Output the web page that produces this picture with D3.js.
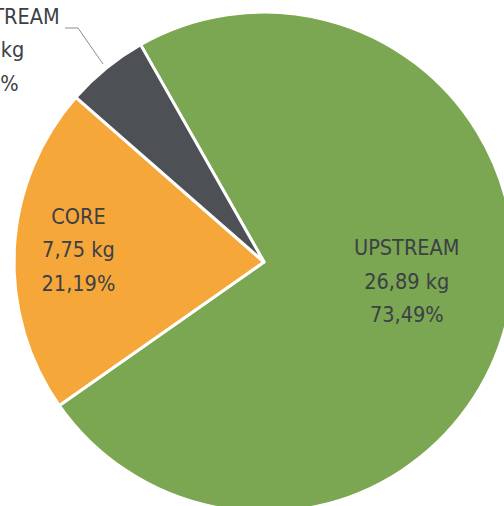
<!DOCTYPE html>
<html><head><meta charset="utf-8">
<script src="https://cdn.jsdelivr.net/npm/d3@7"></script>
<style>html,body{margin:0;padding:0;background:#fff;overflow:hidden}</style>
</head><body>
<svg id="chart" width="504" height="506"></svg>
<script>
const categories = ["UPSTREAM", "CORE", "DOWNSTREAM"];
const valuesKg = [26.89, 7.75, 1.95];
const percentLabels = ["73,49%", "21,19%", "5,32%"];
const colors = ["#7ba652", "#f6a73a", "#4d5055"];

const svg = d3.select("#chart");
const cx = 264, cy = 262, R = 250;
const g = svg.append("g").attr("transform", `translate(${cx},${cy})`);

const start = -29.6 * Math.PI / 180;
const pie = d3.pie().sort(null).startAngle(start).endAngle(start + 2 * Math.PI);
const arcs = pie(valuesKg);
const arc = d3.arc().innerRadius(0).outerRadius(R);

g.selectAll("path").data(arcs).join("path")
  .attr("d", arc)
  .attr("fill", (d, i) => colors[i])
  .attr("stroke", "#fff")
  .attr("stroke-width", 3)
  .attr("stroke-linejoin", "round");

const fmt = v => d3.format(".2f")(v).replace(".", ",") + " kg";

const fontFam = "'DejaVu Sans Condensed', 'DejaVu Sans', sans-serif";
function drawLabel(x, y, i) {
  const t = svg.append("text")
    .attr("text-anchor", "middle")
    .attr("font-family", fontFam)
    .attr("font-stretch", "condensed")
    .attr("font-size", 21.5)
    .attr("fill", "#3c4046");
  const lines = [categories[i], fmt(valuesKg[i]), percentLabels[i]];
  lines.forEach((s, k) => {
    t.append("tspan").attr("x", x).attr("y", y + (k - 1) * 33.5).text(s);
  });
}
// label placement: angle (deg, clockwise from north) and radius from centre
const labelPos = [{a: 97.5, r: 144}, {a: -86, r: 186}];
labelPos.forEach((p, i) => {
  const a = p.a * Math.PI / 180;
  const x = cx + p.r * Math.sin(a), y = cy - p.r * Math.cos(a);
  drawLabel(x, y + 8, i);
});

// outside label for the small slice with leader line
svg.append("polyline")
  .attr("points", [[103, 64], [78, 28], [65, 28]].map(p => p.join(",")).join(" "))
  .attr("fill", "none")
  .attr("stroke", "#8a8c8f")
  .attr("stroke-width", 1);
drawLabel(-12, 57, 2);
</script>
</body></html>
